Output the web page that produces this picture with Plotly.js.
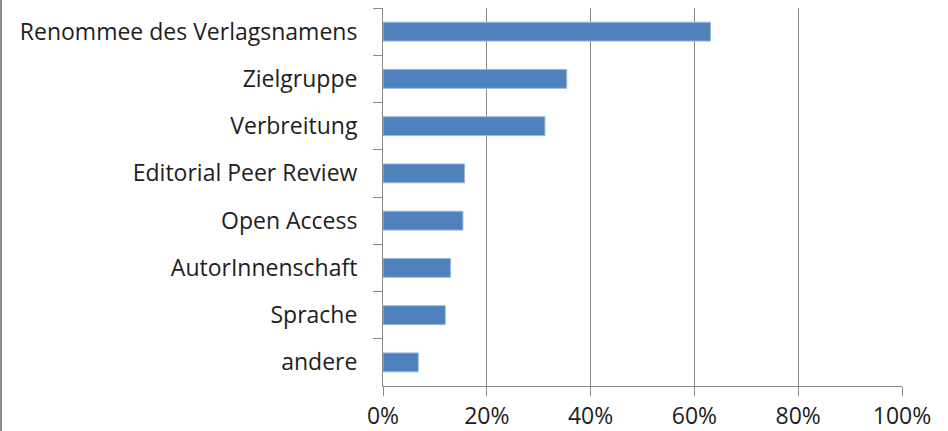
<!DOCTYPE html>
<html><head><meta charset="utf-8">
<script src="https://cdn.plot.ly/plotly-3.0.1.min.js"></script>
<style>html,body{margin:0;padding:0;background:#fff;}#frame{position:absolute;left:0;top:0;width:2px;height:431px;background:#8c8c8c;}</style>
</head><body>
<div id="chart" style="width:948px;height:431px;"></div>
<div id="frame"></div>
<script>
const categories = ["Renommee des Verlagsnamens","Zielgruppe","Verbreitung","Editorial Peer Review","Open Access","AutorInnenschaft","Sprache","andere"];
const values = [0.631, 0.354, 0.312, 0.157, 0.154, 0.130, 0.120, 0.068];
const xTickVals = [0, 0.2, 0.4, 0.6, 0.8, 1.0];
const xTickText = ["0%","20%","40%","60%","80%","100%"];

const trace = {
  type: "bar", orientation: "h",
  y: categories, x: values,
  marker: {color: "#4F81BD", line: {color: "#9DB7DA", width: 1}},
  hoverinfo: "none"
};
const font = {family: "'Open Sans', 'Liberation Sans', sans-serif", size: 23, color: "#1e1e1e"};
const layout = {
  width: 948, height: 431,
  margin: {l: 383, r: 46, t: 8, b: 45, pad: 0},
  paper_bgcolor: "#fff", plot_bgcolor: "#fff",
  showlegend: false,
  bargap: 0.6,
  font: font,
  xaxis: {
    range: [0, 1], tickvals: xTickVals, ticktext: xTickText,
    showgrid: true, gridcolor: "#8a8a8a", gridwidth: 1,
    showline: true, linecolor: "#8a8a8a", linewidth: 1,
    ticks: "outside", ticklen: 9, tickcolor: "#8a8a8a",
    zeroline: false, fixedrange: true, tickfont: font
  },
  yaxis: {
    type: "category", autorange: "reversed",
    tickson: "boundaries", ticks: "outside", ticklen: 9, tickcolor: "#8a8a8a",
    showline: true, linecolor: "#8a8a8a", linewidth: 1,
    showgrid: false, zeroline: false, fixedrange: true,
    ticklabelstandoff: 20, tickfont: font
  }
};
Plotly.newPlot("chart", [trace], layout, {staticPlot: true, displayModeBar: false});
</script>
</body></html>
